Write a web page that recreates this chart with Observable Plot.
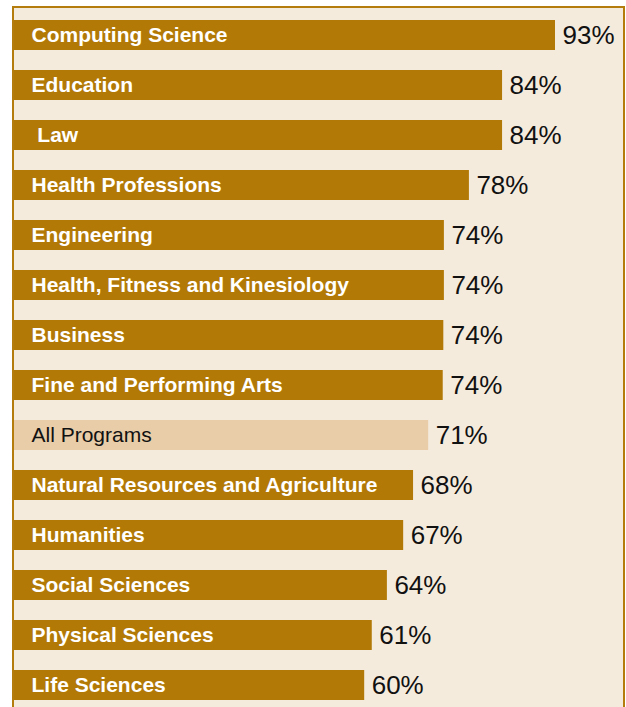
<!DOCTYPE html>
<html>
<head>
<meta charset="utf-8">
<script src="https://cdn.jsdelivr.net/npm/d3@7"></script>
<script src="https://cdn.jsdelivr.net/npm/@observablehq/plot@0.6"></script>
<style>
  html, body { margin: 0; padding: 0; background: #ffffff; }
  #wrap { position: relative; width: 626px; height: 707px; overflow: hidden; }
  #panel { position: absolute; left: 12px; top: 6px; width: 609px; height: 720px;
           background: #f5ebdd; border: 2px solid #b47c0c; border-bottom: none; }
  #chart { position: absolute; left: 0; top: 0; }
  #chart svg { background: transparent; }
</style>
</head>
<body>
<div id="wrap"><div id="panel"></div><div id="chart"></div></div>
<script>
const programs = [
  "Computing Science", "Education", " Law", "Health Professions", "Engineering",
  "Health, Fitness and Kinesiology", "Business", "Fine and Performing Arts",
  "All Programs", "Natural Resources and Agriculture", "Humanities",
  "Social Sciences", "Physical Sciences", "Life Sciences"
];
// bar lengths (shown labels are rounded)
const percents = [93, 83.9, 83.9, 78.2, 73.9, 73.9, 73.8, 73.7, 71.2, 68.6, 66.9, 64.1, 61.5, 60.2];
const labels = ["93%", "84%", "84%", "78%", "74%", "74%", "74%", "74%", "71%", "68%", "67%", "64%", "61%", "60%"];
const highlight = "All Programs";

const data = programs.map((p, i) => ({program: p, value: percents[i], label: labels[i], all: p === highlight}));

const chart = Plot.plot({
  width: 626,
  height: 707,
  margin: 0,
  style: {background: "transparent", fontFamily: "Liberation Sans, Arial, Helvetica, sans-serif"},
  x: {domain: [0, 93], range: [14, 555], axis: null},
  y: {domain: programs, range: [10, 710], paddingInner: 0.4, paddingOuter: 0.2, axis: null},
  marks: [
    Plot.barX(data, {x: "value", y: "program", fill: d => d.all ? "#e8cda8" : "#b27906"}),
    Plot.text(data.filter(d => !d.all), {x: 0, y: "program", text: "program", textAnchor: "start", dx: 17,
      fill: "white", fontWeight: "bold", fontSize: 21}),
    Plot.text(data.filter(d => d.all), {x: 0, y: "program", text: "program", textAnchor: "start", dx: 17,
      fill: "#111", fontSize: 21}),
    Plot.text(data, {x: "value", y: "program", text: "label", textAnchor: "start", dx: 7,
      fill: "#111", fontSize: 26})
  ]
});
document.getElementById("chart").appendChild(chart);
</script>
</body>
</html>
